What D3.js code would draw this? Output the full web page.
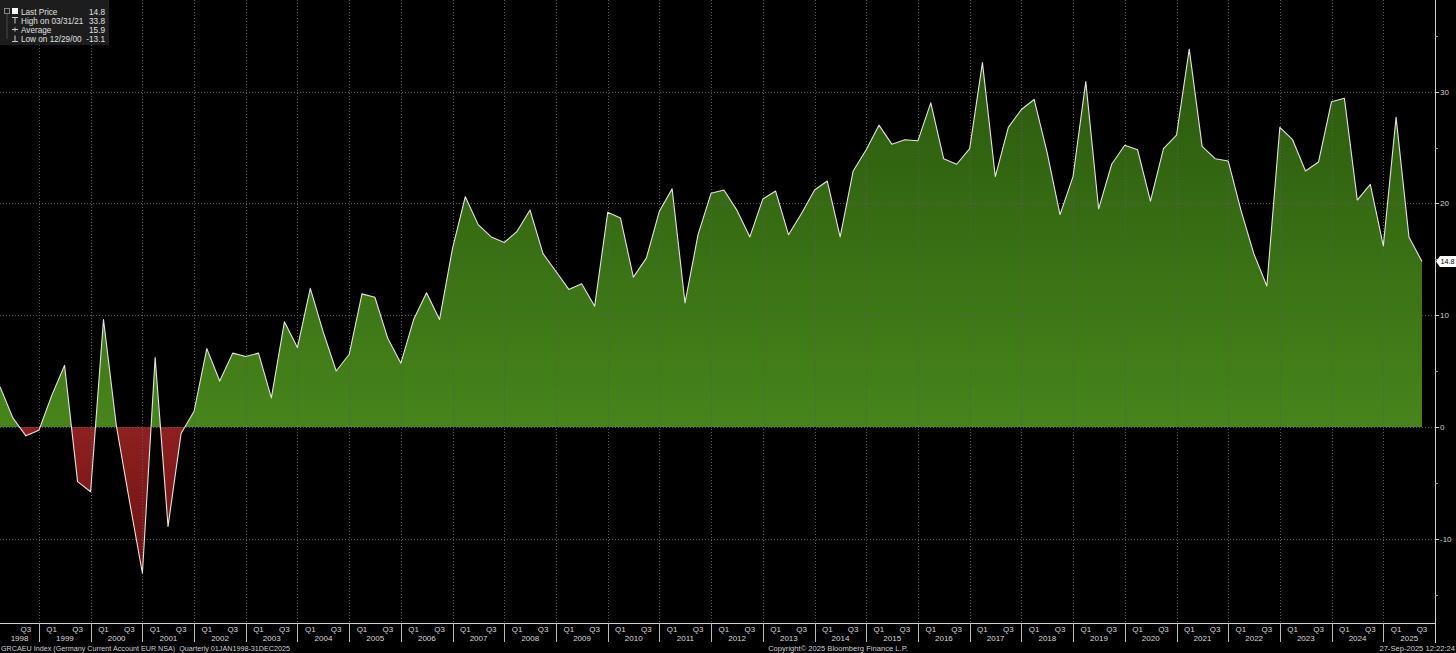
<!DOCTYPE html>
<html>
<head>
<meta charset="utf-8">
<script src="https://cdn.jsdelivr.net/npm/d3@7"></script>
<style>
  html, body { margin: 0; background: #000; }
  svg { display: block; font-family: "Liberation Sans", Arial, sans-serif; }
</style>
</head>
<body>
<svg id="chart" width="1456" height="653"></svg>
<script>
// GRCAEU Index, quarterly, Q1 1998 .. Q3 2025
const values = [
  3.6, 0.8, -0.8, -0.3,      // 1998
  2.8, 5.5, -4.9, -5.8,      // 1999
  9.6, 0.1, -6.6, -13.1,     // 2000
  6.2, -8.9, -0.6, 1.4,      // 2001
  7.0, 4.1, 6.6, 6.3,        // 2002
  6.6, 2.6, 9.4, 7.1,        // 2003
  12.4, 8.5, 5.0, 6.5,       // 2004
  11.9, 11.6, 7.9, 5.7,      // 2005
  9.6, 12.0, 9.6, 16.0,      // 2006
  20.6, 18.1, 17.0, 16.5,    // 2007
  17.5, 19.4, 15.5, 13.9,    // 2008
  12.3, 12.8, 10.8, 19.2,    // 2009
  18.7, 13.4, 15.1, 19.3,    // 2010
  21.3, 11.1, 17.2, 20.9,    // 2011
  21.2, 19.4, 17.0, 20.4,    // 2012
  21.1, 17.2, 19.1, 21.2,    // 2013
  22.0, 17.0, 22.9, 24.8,    // 2014
  27.0, 25.3, 25.7, 25.6,    // 2015
  29.0, 24.0, 23.5, 24.9,    // 2016
  32.6, 22.4, 26.8, 28.4,    // 2017
  29.3, 24.6, 19.0, 22.4,    // 2018
  30.9, 19.5, 23.5, 25.2,    // 2019
  24.8, 20.2, 24.9, 26.1,    // 2020
  33.8, 25.1, 24.0, 23.8,    // 2021
  19.4, 15.5, 12.6, 26.8,    // 2022
  25.7, 22.9, 23.7, 29.1,    // 2023
  29.4, 20.3, 21.7, 16.2,    // 2024
  27.7, 17.0, 14.8           // 2025
];
const startYear = 1998;
const endYear = 2025;
const yMajor = [-10, 0, 10, 20, 30];
const yMinor = [-15, -5, 5, 15, 25, 35];
const quarterLabels = ['Q1', 'Q3'];
const legendLabels = ['Last Price', 'High on 03/31/21', 'Average', 'Low on 12/29/00'];
const legendValues = ['14.8', '33.8', '15.9', '-13.1'];
const lastPrice = '14.8';
const footerLeft = 'GRCAEU Index (Germany Current Account EUR NSA)  Quarterly 01JAN1998-31DEC2025';
const footerMid = 'Copyright\u00A9 2025 Bloomberg Finance L.P.';
const footerRight = '27-Sep-2025 12:22:24';

const W = 1456, H = 653;
const plotRight = 1435, plotBottom = 623;

// quarter-end dates
const data = values.map((v, i) => ({
  date: new Date(startYear + Math.floor(i / 4), 3 * (i % 4) + 3, 0),
  v
}));

const x = d3.scaleTime()
  .domain([data[0].date, new Date(endYear, 11, 31)])
  .range([0, plotRight]);
const y = d3.scaleLinear().domain([-17.55, 38.2]).range([plotBottom, 0]);

const svg = d3.select('#chart');
svg.append('rect').attr('width', W).attr('height', H).attr('fill', '#000');

const defs = svg.append('defs');
const gGreen = defs.append('linearGradient').attr('id', 'gGreen')
  .attr('gradientUnits', 'userSpaceOnUse').attr('x1', 0).attr('x2', 0)
  .attr('y1', y(34)).attr('y2', y(0));
gGreen.append('stop').attr('offset', 0).attr('stop-color', '#2a570d');
gGreen.append('stop').attr('offset', 1).attr('stop-color', '#47851b');
const gRed = defs.append('linearGradient').attr('id', 'gRed')
  .attr('gradientUnits', 'userSpaceOnUse').attr('x1', 0).attr('x2', 0)
  .attr('y1', y(0)).attr('y2', y(-13.5));
gRed.append('stop').attr('offset', 0).attr('stop-color', '#8e2020');
gRed.append('stop').attr('offset', 1).attr('stop-color', '#6c1010');

defs.append('clipPath').attr('id', 'clipPos').append('rect')
  .attr('x', 0).attr('y', 0).attr('width', plotRight).attr('height', y(0));
defs.append('clipPath').attr('id', 'clipNeg').append('rect')
  .attr('x', 0).attr('y', y(0)).attr('width', plotRight).attr('height', plotBottom - y(0));

// areas
const area = d3.area().x(d => x(d.date)).y0(y(0)).y1(d => y(d.v));
svg.append('path').datum(data).attr('d', area)
  .attr('fill', 'url(#gGreen)').attr('clip-path', 'url(#clipPos)');
svg.append('path').datum(data).attr('d', area)
  .attr('fill', 'url(#gRed)').attr('clip-path', 'url(#clipNeg)');

// grid
const years = d3.range(startYear, endYear);
const grid = svg.append('g').attr('stroke', '#5a5a5a').attr('stroke-width', 1)
  .attr('stroke-dasharray', '1,2');
grid.selectAll('line.h').data(yMajor).join('line').attr('class', 'h')
  .attr('x1', 0).attr('x2', plotRight)
  .attr('y1', d => Math.round(y(d)) + 0.5).attr('y2', d => Math.round(y(d)) + 0.5);
grid.selectAll('line.v').data(years).join('line').attr('class', 'v')
  .attr('x1', d => Math.round(x(new Date(d, 11, 31))) + 0.5)
  .attr('x2', d => Math.round(x(new Date(d, 11, 31))) + 0.5)
  .attr('y1', 0).attr('y2', plotBottom);

// line
const line = d3.line().x(d => x(d.date)).y(d => y(d.v));
svg.append('path').datum(data).attr('d', line)
  .attr('fill', 'none').attr('stroke', '#e6e3dc').attr('stroke-width', 1.1)
  .attr('stroke-linejoin', 'round');

// right axis
const ax = svg.append('g');
ax.append('line').attr('x1', plotRight + 0.5).attr('x2', plotRight + 0.5)
  .attr('y1', 0).attr('y2', 643).attr('stroke', '#d0d0d0');
ax.selectAll('line.maj').data(yMajor).join('line').attr('class', 'maj')
  .attr('x1', plotRight).attr('x2', plotRight + 4)
  .attr('y1', d => Math.round(y(d)) + 0.5).attr('y2', d => Math.round(y(d)) + 0.5)
  .attr('stroke', '#d0d0d0');
ax.selectAll('line.min').data(yMinor).join('line').attr('class', 'min')
  .attr('x1', plotRight).attr('x2', plotRight + 3)
  .attr('y1', d => Math.round(y(d)) + 0.5).attr('y2', d => Math.round(y(d)) + 0.5)
  .attr('stroke', '#a0a0a0');
ax.selectAll('text').data(yMajor).join('text')
  .attr('x', plotRight + 5).attr('y', d => y(d) + 3)
  .attr('font-size', 8).attr('fill', '#d0d0d0')
  .text(d => d < 0 ? '-' + Math.abs(d) : d);

// last price tag
const ly = y(values[values.length - 1]);
svg.append('path')
  .attr('d', `M${plotRight + 1},${ly} L${plotRight + 5},${ly - 5.5} L${W},${ly - 5.5} L${W},${ly + 5.5} L${plotRight + 5},${ly + 5.5} Z`)
  .attr('fill', '#fff');
svg.append('text').attr('x', plotRight + 5.5).attr('y', ly + 2.8)
  .attr('font-size', 7.5).attr('fill', '#000')
  .attr('textLength', 14).attr('lengthAdjust', 'spacingAndGlyphs').text(lastPrice);

// bottom axis
const bx = svg.append('g');
bx.append('line').attr('x1', 0).attr('x2', plotRight + 1)
  .attr('y1', plotBottom + 0.5).attr('y2', plotBottom + 0.5).attr('stroke', '#d0d0d0');
bx.selectAll('line.sep').data(years).join('line').attr('class', 'sep')
  .attr('x1', d => Math.round(x(new Date(d, 11, 31))) + 0.5)
  .attr('x2', d => Math.round(x(new Date(d, 11, 31))) + 0.5)
  .attr('y1', plotBottom).attr('y2', 642).attr('stroke', '#bbbbbb');

const qTicks = [];
d3.range(startYear, endYear + 1).forEach(yr => {
  quarterLabels.forEach(q => {
    const d = q === 'Q1' ? new Date(yr, 2, 31) : new Date(yr, 8, 30);
    const px = x(d);
    if (px > 8 && px < plotRight - 4) qTicks.push({ q, px });
  });
});
bx.selectAll('text.q').data(qTicks).join('text').attr('class', 'q')
  .attr('x', d => d.px).attr('y', 632).attr('text-anchor', 'middle')
  .attr('font-size', 8).attr('fill', '#d8d8d8').text(d => d.q);

const yearLabels = d3.range(startYear, endYear + 1).map(yr => {
  const a = Math.max(0, x(new Date(yr, 0, 1)));
  const b = Math.min(plotRight, x(new Date(yr + 1, 0, 1)));
  return { yr, px: (a + b) / 2 };
});
bx.selectAll('text.yr').data(yearLabels).join('text').attr('class', 'yr')
  .attr('x', d => d.px).attr('y', 641).attr('text-anchor', 'middle')
  .attr('font-size', 8).attr('fill', '#d8d8d8').text(d => d.yr);

// footer
svg.append('text').attr('x', 1).attr('y', 651).attr('font-size', 7.6)
  .attr('fill', '#cfcfcf').style('white-space', 'pre')
  .attr('textLength', 289).attr('lengthAdjust', 'spacingAndGlyphs').text(footerLeft);
svg.append('text').attr('x', 838).attr('y', 651).attr('text-anchor', 'middle')
  .attr('font-size', 7.6).attr('fill', '#cfcfcf').text(footerMid);
svg.append('text').attr('x', W - 1).attr('y', 651).attr('text-anchor', 'end')
  .attr('font-size', 7.6).attr('fill', '#cfcfcf').text(footerRight);

// legend
const lg = svg.append('g');
lg.append('rect').attr('x', 0).attr('y', 0).attr('width', 109).attr('height', 45)
  .attr('fill', '#1d1d1d');
const rowY = [11.5, 20.5, 29.5, 38.5];
lg.append('rect').attr('x', 4.5).attr('y', 8.5).attr('width', 5).attr('height', 5)
  .attr('fill', 'none').attr('stroke', '#888');
lg.append('line').attr('x1', 7).attr('x2', 7).attr('y1', 13.5).attr('y2', 39)
  .attr('stroke', '#777').attr('stroke-dasharray', '1,1');
lg.append('rect').attr('x', 12).attr('y', 8).attr('width', 6).attr('height', 6).attr('fill', '#fff');
// symbols for high / average / low
lg.append('path').attr('d', `M12,${rowY[1] - 3} H18 M15,${rowY[1] - 3} V${rowY[1] + 3}`)
  .attr('stroke', '#ccc').attr('fill', 'none');
lg.append('path').attr('d', `M12,${rowY[2]} H18 M15,${rowY[2] - 2} V${rowY[2] + 2}`)
  .attr('stroke', '#ccc').attr('fill', 'none');
lg.append('path').attr('d', `M12,${rowY[3] + 3} H18 M15,${rowY[3] - 3} V${rowY[3] + 3}`)
  .attr('stroke', '#ccc').attr('fill', 'none');
lg.selectAll('text.lab').data(legendLabels).join('text').attr('class', 'lab')
  .attr('x', 21).attr('y', (d, i) => rowY[i] + 3)
  .attr('font-size', 8.2).attr('fill', '#e0e0e0').text(d => d);
lg.selectAll('text.val').data(legendValues).join('text').attr('class', 'val')
  .attr('x', 105).attr('y', (d, i) => rowY[i] + 3).attr('text-anchor', 'end')
  .attr('font-size', 8.2).attr('fill', '#e0e0e0').text(d => d);
</script>
</body>
</html>
